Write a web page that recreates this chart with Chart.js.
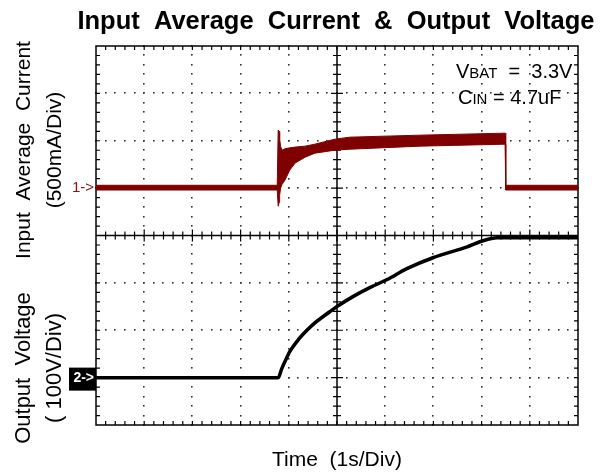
<!DOCTYPE html>
<html>
<head>
<meta charset="utf-8">
<script src="https://cdn.jsdelivr.net/npm/chart.js@4/dist/chart.umd.min.js"></script>
<style>
  body { margin: 0; background: #fff; }
  #wrap { width: 607px; height: 472px; position: relative; }
</style>
</head>
<body>
<div id="wrap"><canvas id="scope"></canvas></div>
<script>
// Time axis: 1 s per division, 10 divisions
const timeTicks = [0, 1, 2, 3, 4, 5, 6, 7, 8, 9, 10];

// Channel 1: input average current envelope (mA), 500 mA/div
const timeI       = [0, 3.76, 3.78, 3.80, 3.81, 3.83, 3.86, 3.92, 4.02, 4.13, 4.34, 4.54, 4.96, 5.27, 6.72, 8.49, 8.50, 10];
const currentHigh = [30, 30, 612, 600, 520, 440, 400, 415, 425, 433, 443, 464, 517, 538, 559, 580, 30, 30];
const currentLow  = [-20, -20, -190, -150, -74, 0, 40, 84, 190, 264, 327, 369, 401, 411, 443, 464, -20, -20];

// Channel 2: output voltage (V), 100 V/div
const timeV   = [0, 3.78, 3.85, 3.92, 4.02, 4.15, 4.29, 4.50, 4.85, 5.00, 5.33, 5.68, 6.04, 6.45, 6.99, 7.70, 8.03, 8.32, 10];
const voltage = [0, 0, 18, 34, 55, 74, 91, 112, 139, 150, 171, 190, 207, 230, 253, 276, 289, 295, 295];

const FONT = '"Liberation Sans", Arial, sans-serif';
const RED = '#7f0000';

const pts = (xs, ys) => xs.map((x, i) => ({ x: x, y: ys[i] }));

// oscilloscope graticule: dotted divisions, centre cross and border with minor ticks
const graticule = {
    id: 'graticule',
    beforeDatasetsDraw(chart) {
        const { ctx, chartArea: a, scales } = chart;
        const xs = scales.x, ys = scales.yI;
        const px = v => xs.getPixelForValue(v);
        const py = v => ys.getPixelForValue(v);
        ctx.save();
        ctx.fillStyle = '#333';
        // dots along interior division lines
        for (let d = 1; d < 10; d++) {
            if (d === 5) continue;
            for (let m = 0; m <= 40; m++) {
                ctx.fillRect(Math.round(px(d)) - 1, Math.round(py(-2500 + m * 100)) - 1, 1.6, 1.6);
            }
        }
        for (let d = 1; d < 8; d++) {
            if (d === 4) continue;
            const v = -2500 + d * 500;
            for (let m = 0; m <= 50; m++) {
                ctx.fillRect(Math.round(px(m * 0.2)) - 1, Math.round(py(v)) - 1, 1.6, 1.6);
            }
        }
        ctx.strokeStyle = '#000';
        ctx.lineWidth = 1.5;
        ctx.strokeRect(a.left, a.top, a.right - a.left, a.bottom - a.top);
        const cx = px(5), cy = py(-500);
        ctx.beginPath();
        ctx.moveTo(cx, a.top); ctx.lineTo(cx, a.bottom);
        ctx.moveTo(a.left, cy); ctx.lineTo(a.right, cy);
        ctx.stroke();
        ctx.lineWidth = 1.2;
        ctx.beginPath();
        // minor ticks along x (border + centre line)
        for (let m = 1; m < 50; m++) {
            const x = px(m * 0.2);
            const major = m % 5 === 0 ? 2 : 0;
            ctx.moveTo(x, a.top); ctx.lineTo(x, a.top + 4);
            ctx.moveTo(x, a.bottom); ctx.lineTo(x, a.bottom - 4);
            ctx.moveTo(x, cy - 4 - major); ctx.lineTo(x, cy + 4 + major);
        }
        // minor ticks along y
        for (let m = 1; m < 40; m++) {
            const y = py(-2500 + m * 100);
            const major = m % 5 === 0 ? 2 : 0;
            ctx.moveTo(a.left, y); ctx.lineTo(a.left + 4, y);
            ctx.moveTo(a.right, y); ctx.lineTo(a.right - 4, y);
            ctx.moveTo(cx - 4 - major, y); ctx.lineTo(cx + 4 + major, y);
        }
        ctx.stroke();
        ctx.restore();
    },
    afterDraw(chart) {
        const { ctx, chartArea: a, scales } = chart;
        ctx.save();
        ctx.fillStyle = '#000';
        ctx.textAlign = 'center';
        ctx.textBaseline = 'middle';
        ctx.font = 'bold 25.5px ' + FONT;
        ctx.fillText('Input  Average  Current  &  Output  Voltage', 336, 22);
        ctx.font = '21px ' + FONT;
        ctx.fillText('Time  (1s/Div)', 337, 460);

        const vText = (lines, y, sizes) => {
            ctx.save();
            ctx.translate(0, y);
            ctx.rotate(-Math.PI / 2);
            ctx.font = sizes[0] + 'px ' + FONT;
            ctx.fillText(lines[0], 0, 24);
            ctx.font = sizes[1] + 'px ' + FONT;
            ctx.fillText(lines[1], 0, 55);
            ctx.restore();
        };
        vText(['Input  Average  Current', '(500mA/Div)'], 150, [21, 21]);
        vText(['Output  Voltage', '( 100V/Div)'], 368, [22, 22]);

        // annotation
        ctx.textAlign = 'left';
        ctx.textBaseline = 'alphabetic';
        let x = 456;
        ctx.font = '20px ' + FONT;
        ctx.fillText('V', x, 78); x += ctx.measureText('V').width;
        ctx.font = '15px ' + FONT;
        ctx.fillText('BAT', x, 78); x += ctx.measureText('BAT').width;
        ctx.font = '20px ' + FONT;
        ctx.fillText('  =  3.3V', x, 78);
        x = 458;
        ctx.fillText('C', x, 104); x += ctx.measureText('C').width;
        ctx.font = '15px ' + FONT;
        ctx.fillText('IN', x, 104); x += ctx.measureText('IN').width;
        ctx.font = '20px ' + FONT;
        ctx.fillText(' = 4.7uF', x, 104);

        // channel markers
        const y1 = scales.yI.getPixelForValue(0);
        const y2 = scales.yV.getPixelForValue(0);
        ctx.textAlign = 'right';
        ctx.textBaseline = 'middle';
        ctx.font = '15px ' + FONT;
        ctx.fillStyle = '#8b1010';
        ctx.fillText('1->', a.left - 2, y1);
        ctx.fillStyle = '#000';
        ctx.fillRect(69, y2 - 10, a.left - 69, 23);
        ctx.fillStyle = '#fff';
        ctx.font = 'bold 14px ' + FONT;
        ctx.fillText('2->', a.left - 2, y2 + 1);
        ctx.restore();
    }
};

new Chart(document.getElementById('scope'), {
    type: 'line',
    data: {
        datasets: [
            {
                label: 'I high',
                data: pts(timeI, currentHigh),
                yAxisID: 'yI',
                borderColor: RED,
                borderWidth: 1,
                pointRadius: 0
            },
            {
                label: 'I low',
                data: pts(timeI, currentLow),
                yAxisID: 'yI',
                borderColor: RED,
                backgroundColor: RED,
                borderWidth: 1,
                pointRadius: 0,
                fill: '-1'
            },
            {
                label: 'Vout',
                data: pts(timeV, voltage),
                yAxisID: 'yV',
                borderColor: '#000',
                borderWidth: 3.5,
                pointRadius: 0,
                cubicInterpolationMode: 'monotone'
            }
        ]
    },
    options: {
        responsive: true,
        maintainAspectRatio: false,
        animation: false,
        layout: { padding: { left: 96, right: 29, top: 46, bottom: 47 } },
        plugins: {
            legend: { display: false },
            tooltip: { enabled: false },
            title: { display: false }
        },
        scales: {
            x: { type: 'linear', min: timeTicks[0], max: timeTicks[timeTicks.length - 1], display: false },
            yI: { type: 'linear', min: -2500, max: 1500, display: false },
            yV: { type: 'linear', min: -100, max: 700, display: false }
        }
    },
    plugins: [graticule]
});
</script>
</body>
</html>
